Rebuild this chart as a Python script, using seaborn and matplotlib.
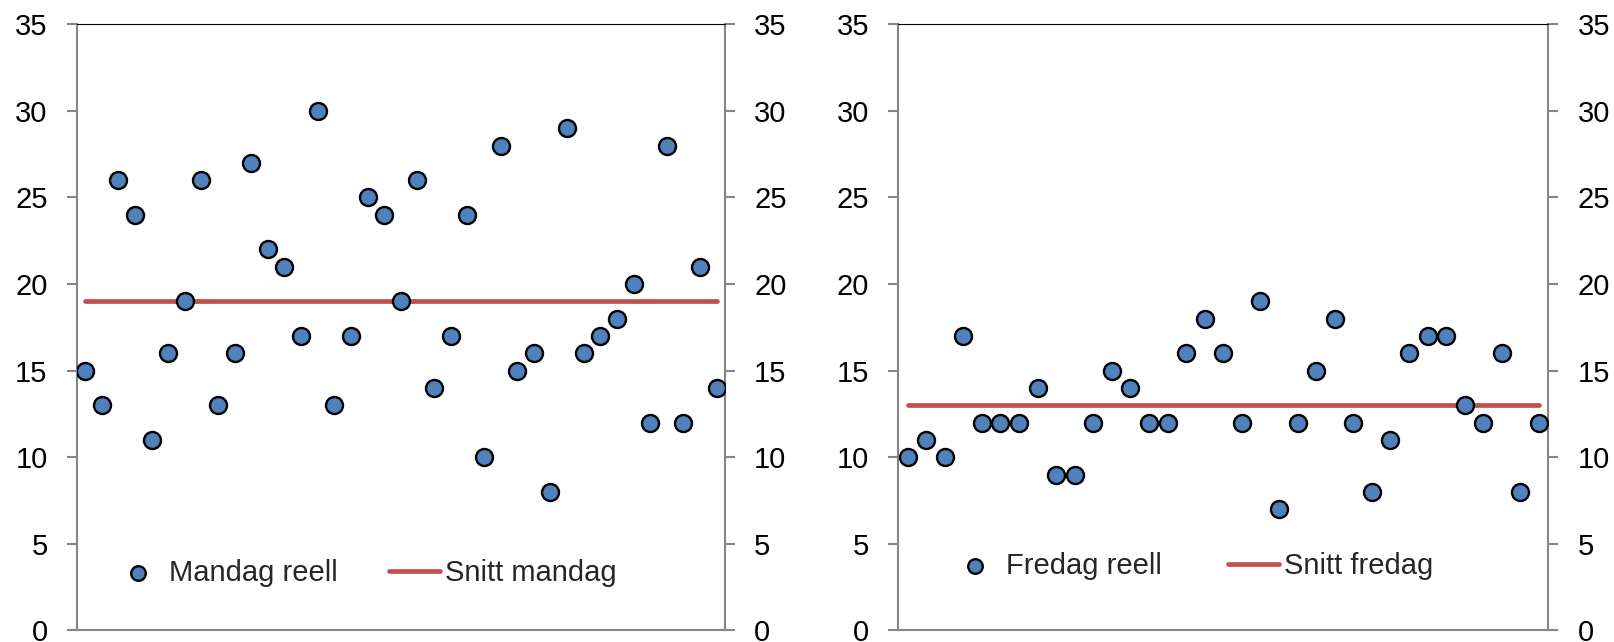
import matplotlib
matplotlib.use("Agg")
import matplotlib.pyplot as plt
import seaborn as sns

# data
mandag_reell = [15, 13, 26, 24, 11, 16, 19, 26, 13, 16, 27, 22, 21, 17, 30, 13, 17, 25, 24, 19,
                26, 14, 17, 24, 10, 28, 15, 16, 8, 29, 16, 17, 18, 20, 12, 28, 12, 21, 14]
snitt_mandag = 19
fredag_reell = [10, 11, 10, 17, 12, 12, 12, 14, 9, 9, 12, 15, 14, 12, 12, 16, 18, 16, 12, 19,
                7, 12, 15, 18, 12, 8, 11, 16, 17, 17, 13, 12, 16, 8, 12]
snitt_fredag = 13
y_ticks = [0, 5, 10, 15, 20, 25, 30, 35]

BLUE = "#4F81BD"
RED = "#C0504D"
GREY = "#868686"

sns.set_style("white")
plt.rcParams["font.family"] = ["Liberation Sans", "DejaVu Sans"]
plt.rcParams["font.size"] = 21

fig = plt.figure(figsize=(16.14, 6.42), dpi=100)
ax1 = fig.add_axes([76.7 / 1614, 11.6 / 642, 648.3 / 1614, 606.1 / 642])
ax2 = fig.add_axes([898.3 / 1614, 11.6 / 642, 650 / 1614, 606.1 / 642])

panels = [
    (ax1, mandag_reell, snitt_mandag, "Mandag reell", "Snitt mandag", (0.0557, 0.0947), 1.75),
    (ax2, fredag_reell, snitt_fredag, "Fredag reell", "Snitt fredag", (0.0788, 0.106), 2.28),
]

for ax, values, avg, lab_pts, lab_avg, leg_pos, colsp in panels:
    days = list(range(1, len(values) + 1))
    sns.lineplot(x=[days[0], days[-1]], y=[avg, avg], ax=ax, color=RED, linewidth=3.4,
                 solid_capstyle="round", label=lab_avg, zorder=2)
    sns.scatterplot(x=days, y=values, ax=ax, color=BLUE, edgecolor="black", linewidth=1.7,
                    s=150, label=lab_pts, zorder=3)
    ax.set_xlim(0.5, len(values) + 0.5)
    ax.set_ylim(0, 35)
    ax.set_yticks(y_ticks)
    ax.set_xticks([])
    ax.set_xlabel("")
    ax.set_ylabel("")
    for side in ["left", "right", "bottom"]:
        ax.spines[side].set_color(GREY)
        ax.spines[side].set_linewidth(1.5)
    ax.spines["top"].set_color("black")
    ax.spines["top"].set_linewidth(0.8)
    ax.tick_params(axis="y", left=True, right=True, labelleft=True, labelright=True,
                   direction="out", length=7, width=1.5, color=GREY, pad=14,
                   labelsize=21, labelcolor="black")

    handles, labels = ax.get_legend_handles_labels()
    order = [labels.index(lab_pts), labels.index(lab_avg)]
    leg = ax.legend([handles[i] for i in order], [labels[i] for i in order],
                    loc="center left", bbox_to_anchor=leg_pos, ncol=2, frameon=False,
                    borderpad=0, borderaxespad=0, handlelength=1.75, handletextpad=0.17,
                    columnspacing=colsp, fontsize=21)
    # legend dot a bit larger, like the reference
    h = leg.legend_handles[0]
    if hasattr(h, "set_sizes"):
        h.set_sizes([110])
    if hasattr(h, "set_markersize"):
        h.set_markersize(10.5)

fig.savefig("out.png", dpi=100)
